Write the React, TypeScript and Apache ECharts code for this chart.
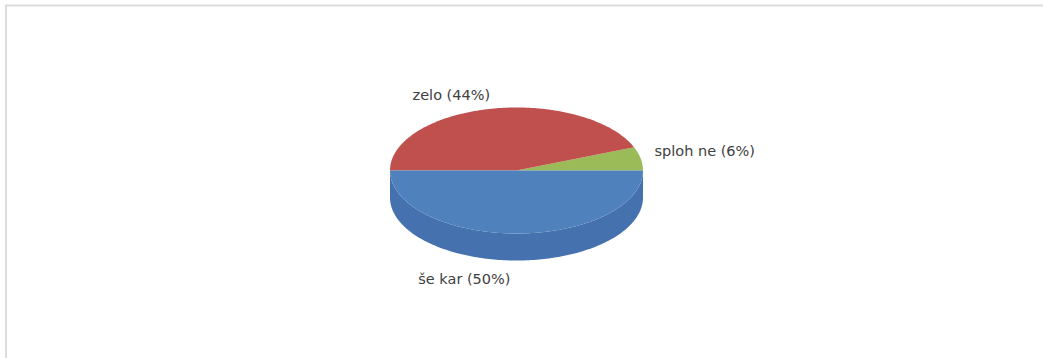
import React, { useEffect, useRef } from "react";
import * as echarts from "echarts";

const categories = ["sploh ne", "zelo", "še kar"];
const values = [6, 44, 50];
const topColors = ["#9BBB59", "#C0504D", "#4F81BD"];
const sideColors = ["#7E9A45", "#9E3E3B", "#4572AE"];

const CX = 516.5;
const CY = 170.5;
const RX = 126.5;
const RY = 63;
const DEPTH = 27;

function ellPt(a: number, dy = 0): number[] {
  return [CX + RX * Math.cos(a), CY - RY * Math.sin(a) + dy];
}

function arcPts(a0: number, a1: number, dy = 0): number[][] {
  const n = Math.max(2, Math.ceil(Math.abs(a1 - a0) / 0.02));
  const pts: number[][] = [];
  for (let i = 0; i <= n; i++) pts.push(ellPt(a0 + ((a1 - a0) * i) / n, dy));
  return pts;
}

export default function App() {
  const ref = useRef<HTMLDivElement>(null);
  useEffect(() => {
    if (!ref.current) return;
    const chart = echarts.init(ref.current, null, { renderer: "svg" });
    const total = values.reduce((s, v) => s + v, 0);
    const starts: number[] = [];
    let acc = 0;
    values.forEach((v) => {
      starts.push(acc);
      acc += v;
    });

    const renderItem = (params: any) => {
      const i = params.dataIndex;
      const a0 = (starts[i] / total) * Math.PI * 2;
      const a1 = ((starts[i] + values[i]) / total) * Math.PI * 2;
      const children: any[] = [];
      const s = Math.max(a0, Math.PI);
      const e = Math.min(a1, Math.PI * 2);
      if (e > s) {
        const top = arcPts(s, e);
        const bot = arcPts(e, s, DEPTH);
        children.push({
          type: "polygon",
          z2: 1,
          shape: { points: top.concat(bot) },
          style: { fill: sideColors[i] },
        });
      }
      children.push({
        type: "polygon",
        z2: 5,
        shape: { points: [[CX, CY]].concat(arcPts(a0, a1)) },
        style: { fill: topColors[i] },
      });
      const mid = (a0 + a1) / 2;
      const c = Math.cos(mid);
      const sn = Math.sin(mid);
      let lx = CX + (RX + 14) * c;
      let ly = CY - (RY + 14) * sn;
      if (sn < 0) ly += DEPTH;
      const align = c > 0.05 ? "left" : "right";
      if (Math.abs(c) <= 0.05) lx = CX - 6;
      if (sn > 0 && sn < 0.5) ly -= 5;
      if (sn < 0) ly += 4;
      const pct = Math.round((values[i] / total) * 100);
      children.push({
        type: "text",
        z2: 10,
        style: {
          x: lx,
          y: ly,
          text: `${categories[i]} (${pct}%)`,
          align,
          verticalAlign: "middle",
          fill: "#404040",
          font: "14.5px 'DejaVu Sans'",
        },
      });
      return { type: "group", children };
    };

    chart.setOption({
      animation: false,
      backgroundColor: "#ffffff",
      graphic: [
        {
          type: "rect",
          shape: { x: 6, y: 5.5, width: 1200, height: 500 },
          style: { fill: "none", stroke: "#dcdcdc", lineWidth: 2 },
          silent: true,
        },
      ],
      series: [
        {
          type: "custom",
          coordinateSystem: "none",
          renderItem,
          data: values.map((v, i) => ({ name: categories[i], value: v })),
        },
      ],
    });
    return () => chart.dispose();
  }, []);
  return (
    <div
      ref={ref}
      style={{ position: "absolute", left: 0, top: 0, width: 1043, height: 358 }}
    />
  );
}
